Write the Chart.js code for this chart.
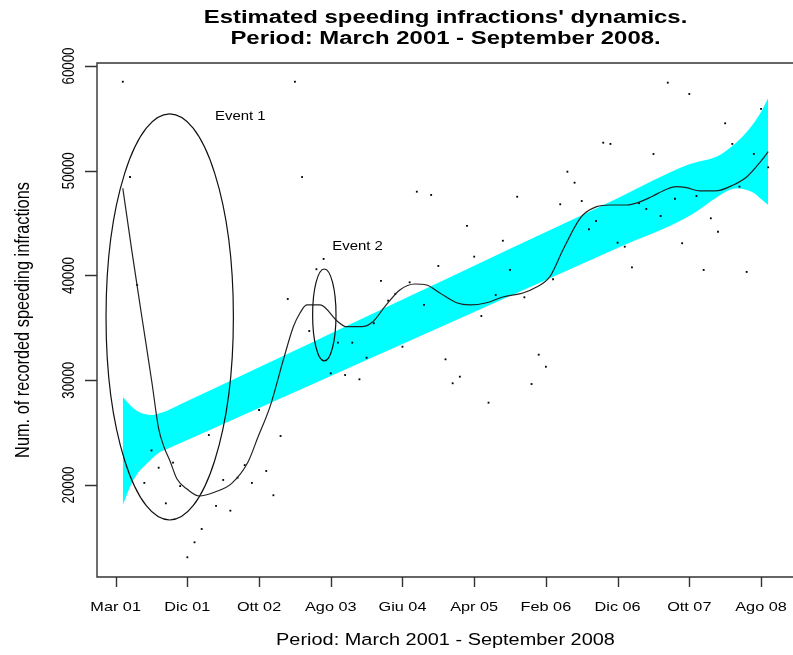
<!DOCTYPE html>
<html>
<head>
<meta charset="utf-8">
<script src="https://cdn.jsdelivr.net/npm/chart.js@4.4.1/dist/chart.umd.min.js"></script>
<style>
  html, body { margin: 0; padding: 0; background: #fff; overflow: hidden; }
  canvas { display: block; }
</style>
</head>
<body>
<canvas id="c" width="800" height="655" style="width:800px;height:655px"></canvas>
<script>
// ---------------- data ----------------
const tickValues = [0, 10, 20, 30, 40, 50, 60, 70, 80, 90];
const tickLabels = ['Mar 01', 'Dic 01', 'Ott 02', 'Ago 03', 'Giu 04', 'Apr 05', 'Feb 06', 'Dic 06', 'Ott 07', 'Ago 08'];
const yTickValues = [20000, 30000, 40000, 50000, 60000];

// monthly recorded infractions (month index 1..91)
const months = Array.from({length: 91}, (_, k) => k + 1);
const infractions = [
  58500, 49400, 39100, 20200, 23300, 21650, 18250, 22130, 19900, 13100,
  14530, 15800, 24770, 18000, 20480, 17550, 20700, 21900, 20200, 27160,
  21340, 19020, 24680, 37760, 58500, 49400, 34700, 40600, 41580, 30660,
  33590, 30500, 33590, 30090, 32150, 35440, 39480, 37600, 38250, 33200,
  39350, 48000, 37190, 47690, 40910, 32000, 29710, 30340, 44730, 41800,
  36130, 27860, 38140, 43320, 40530, 47520, 37920, 29640, 32440, 31290,
  39640, 46800, 49910, 48860, 47110, 44410, 45200, 52680, 52560, 43130,
  42750, 40780, 46900, 46350, 51600, 45680, 58410, 47330, 43080, 57330,
  47590, 40530, 45460, 44180, 54530, 52560, 48480, 40340, 51600, 55900,
  50330
];

// smoothed dynamics curve (month, value)
const smoothX = [1, 2.24, 3.68, 5.07, 5.98, 6.75, 7.58, 8.56, 9.95, 11.63, 13.86, 16.19, 18.46, 19.85, 21.53, 23.38, 24.78, 25.71, 26.65, 28.5, 30.99, 32.2, 34.29, 35.87, 37.54, 39.63, 41.72, 43.36, 45.21, 47.54, 49.4, 51.73, 54.0, 56.79, 58.7, 60.56, 62.37, 64.46, 65.16, 67.07, 68.92, 71.25, 72.83, 74.74, 76.83, 78.22, 79.62, 81.47, 83.62, 86.13, 88.04, 89.94, 91];
const smoothY = [48330, 42440, 35940, 29740, 25440, 23630, 22290, 20570, 19620, 18950, 19330, 20160, 22200, 24580, 27480, 31930, 35110, 36420, 37190, 37190, 35590, 35110, 35110, 35590, 37020, 38620, 39190, 39090, 38330, 37400, 37190, 37400, 37950, 38330, 38900, 39890, 42440, 45140, 45780, 46570, 46730, 46730, 46950, 47520, 48230, 48480, 48380, 48070, 48070, 48640, 49430, 50870, 51820];

// trend band (month, upper, lower)
const bandX     = [1,     2,     3,     4,     5,     6,     7,     10,    20,    30,    40,    50,    60,    70,    80,    84,    86,    87,    88,    89,    90,    91];
const bandUpper = [28400, 27640, 27070, 26780, 26680, 26830, 27050, 28010, 31240, 34470, 37700, 40930, 44150, 47380, 50610, 51410, 52360, 52980, 53700, 54560, 55610, 56950];
const bandLower = [18090, 19810, 21050, 21810, 22480, 23060, 23380, 24300, 27350, 30410, 33460, 36520, 39570, 42630, 45680, 47540, 48260, 48310, 48160, 47880, 47300, 46730];

// event annotations (ellipses in data units) and their labels
const eventNames   = ['Event 1', 'Event 2'];
const eventCenterX = [7.54, 29.1];
const eventCenterY = [36040, 36230];
const eventRadX    = [8.88, 1.63];
const eventRadY    = [19380, 4390];
const eventLabelX  = [13.85, 30.2];
const eventLabelY  = [54800, 42450];

const titleLines = ["Estimated speeding infractions' dynamics.", "Period: March 2001 - September 2008."];
const xTitle = 'Period: March 2001 - September 2008';
const yTitle = 'Num. of recorded speeding infractions';

// ---------------- drawing helpers ----------------
const SX = 1.66, SY = 1.36;          // the reference is a stretched R device
const FONT = '"Liberation Sans", Arial, Helvetica, sans-serif';

function sText(ctx, str, x, y, size, bold, align, rotated, sy) {
  ctx.save();
  ctx.translate(x, y);
  if (rotated) { ctx.rotate(-Math.PI / 2); ctx.scale(SY, SX); }
  else ctx.scale(SX, sy || SY);
  ctx.font = (bold ? 'bold ' : '') + size + 'px ' + FONT;
  ctx.textAlign = align;
  ctx.textBaseline = 'alphabetic';
  ctx.fillStyle = '#000';
  ctx.fillText(str, 0, 0);
  ctx.restore();
}

const decor = {
  id: 'rdecor',
  afterDatasetsDraw(chart) {
    const ctx = chart.ctx, xs = chart.scales.x, ys = chart.scales.y;
    ctx.save();
    ctx.strokeStyle = '#111';
    ctx.lineWidth = 1.2;
    for (let k = 0; k < eventNames.length; k++) {
      const cx = xs.getPixelForValue(eventCenterX[k]);
      const cy = ys.getPixelForValue(eventCenterY[k]);
      const rx = Math.abs(xs.getPixelForValue(eventCenterX[k] + eventRadX[k]) - cx);
      const ry = Math.abs(ys.getPixelForValue(eventCenterY[k] + eventRadY[k]) - cy);
      ctx.beginPath();
      ctx.ellipse(cx, cy, rx, ry, 0, 0, Math.PI * 2);
      ctx.stroke();
      sText(ctx, eventNames[k], xs.getPixelForValue(eventLabelX[k]), ys.getPixelForValue(eventLabelY[k]), 9, false, 'left', false);
    }
    ctx.restore();
  },
  afterDraw(chart) {
    const ctx = chart.ctx, xs = chart.scales.x, ys = chart.scales.y;
    const a = chart.chartArea;
    ctx.save();
    ctx.strokeStyle = '#333';
    ctx.lineWidth = 1.4;
    // box
    ctx.beginPath();
    ctx.rect(a.left, a.top, a.right - a.left, a.bottom - a.top);
    ctx.stroke();
    // x ticks
    ctx.beginPath();
    tickValues.forEach(v => {
      const px = Math.round(xs.getPixelForValue(v)) + 0.5;
      ctx.moveTo(px, a.bottom); ctx.lineTo(px, a.bottom + 10);
    });
    // y ticks
    yTickValues.forEach(v => {
      const py = Math.round(ys.getPixelForValue(v)) + 0.5;
      ctx.moveTo(a.left, py); ctx.lineTo(a.left - 12, py);
    });
    ctx.stroke();
    ctx.restore();
    tickValues.forEach((v, k) => {
      sText(ctx, tickLabels[k], xs.getPixelForValue(v), a.bottom + 34, 9.8, false, 'center', false);
    });
    yTickValues.forEach(v => {
      sText(ctx, String(v), a.left - 23, ys.getPixelForValue(v), 9.8, false, 'center', true);
    });
    const mid = (a.left + a.right) / 2;
    sText(ctx, titleLines[0], mid, 22.5, 14.4, true, 'center', false, 1.25);
    sText(ctx, titleLines[1], mid, 43.5, 14.4, true, 'center', false, 1.25);
    sText(ctx, xTitle, mid, 645, 12, false, 'center', false);
    sText(ctx, yTitle, 29, (a.top + a.bottom) / 2, 12, false, 'center', true);
  }
};

const pts = (xsArr, ysArr) => xsArr.map((x, k) => ({x, y: ysArr[k]}));

new Chart(document.getElementById('c'), {
  type: 'line',
  data: {
    datasets: [
      { label: 'upper', data: pts(bandX, bandUpper), borderColor: 'rgba(0,0,0,0)', borderWidth: 0,
        pointRadius: 0, fill: false, cubicInterpolationMode: 'monotone', order: 10 },
      { label: 'lower', data: pts(bandX, bandLower), borderColor: 'rgba(0,0,0,0)', borderWidth: 0,
        pointRadius: 0, fill: 0, backgroundColor: '#00FFFF', cubicInterpolationMode: 'monotone', order: 9 },
      { label: 'recorded', data: pts(months, infractions), showLine: false, pointStyle: 'rect',
        pointRadius: 1.3, pointBackgroundColor: '#000', pointBorderWidth: 0, order: 5 },
      { label: 'smoothed', data: pts(smoothX, smoothY), borderColor: '#222', borderWidth: 1.2,
        pointRadius: 0, fill: false, cubicInterpolationMode: 'monotone', order: 1 }
    ]
  },
  options: {
    responsive: false,
    animation: false,
    devicePixelRatio: 1,
    layout: { padding: { left: 97, top: 63, right: 6, bottom: 78 } },
    scales: {
      x: { type: 'linear', min: -2.6, max: 94.6, display: false },
      y: { type: 'linear', min: 11217, max: 60286, display: false }
    },
    plugins: { legend: { display: false }, tooltip: { enabled: false }, title: { display: false } }
  },
  plugins: [decor]
});
</script>
</body>
</html>
